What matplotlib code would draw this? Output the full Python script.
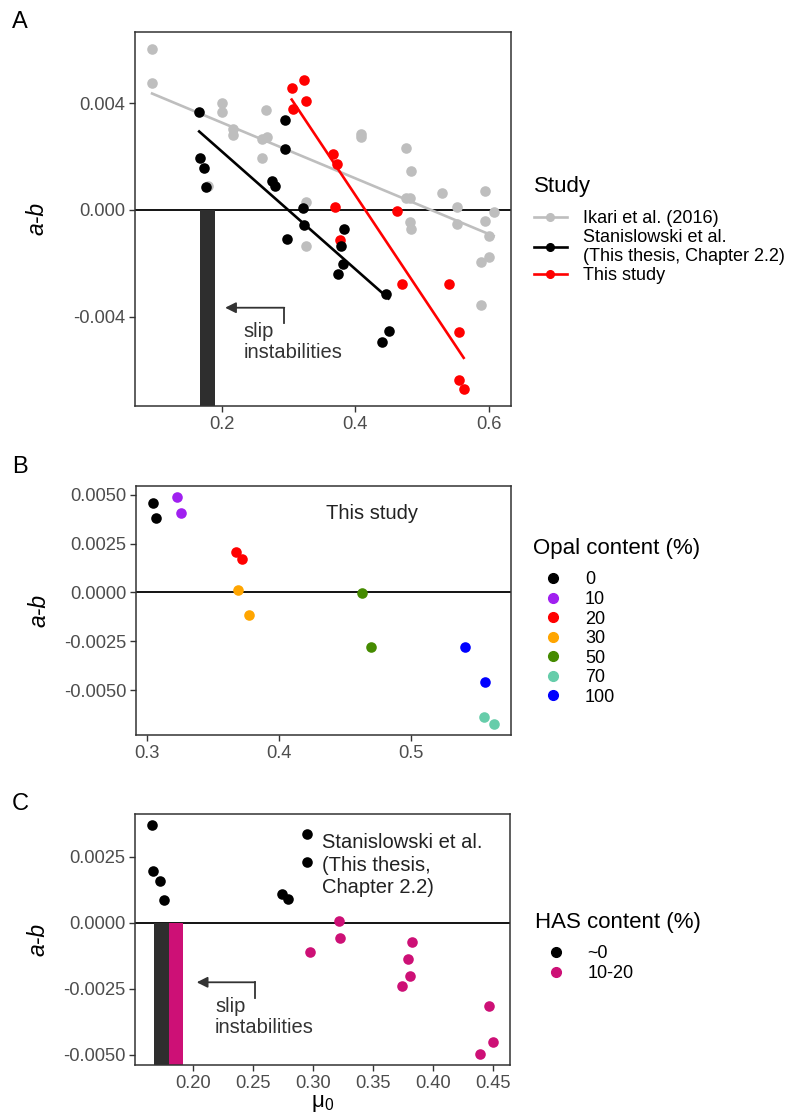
import numpy as np
import matplotlib
matplotlib.use("Agg")
import matplotlib.pyplot as plt
from matplotlib.lines import Line2D

plt.rcParams['font.family'] = ['Liberation Sans', 'DejaVu Sans']
plt.rcParams['mathtext.fontset'] = 'custom'
plt.rcParams['mathtext.rm'] = 'Liberation Sans'
plt.rcParams['mathtext.it'] = 'Liberation Sans:italic'

# Ikari et al. (2016) compilation: friction coefficient mu0 and a-b
ikari_mu = [0.0955, 0.0955, 0.2001, 0.2001, 0.2175, 0.2175, 0.2665, 0.2601,
            0.2676, 0.2601, 0.1800, 0.3261, 0.3261, 0.4090, 0.4090, 0.4765,
            0.4840, 0.4765, 0.4825, 0.4815, 0.4836, 0.5300, 0.5526, 0.5526,
            0.5950, 0.5950, 0.6000, 0.6075, 0.5886, 0.6000, 0.5886]
ikari_ab = [0.00605, 0.00478, 0.00400, 0.00367, 0.00305, 0.00280, 0.00374, 0.00268,
            0.00272, 0.00195, 0.00090, 0.00030, -0.00135, 0.00286, 0.00274, 0.00231,
            0.00146, 0.00043, 0.00043, -0.00045, -0.00070, 0.00065, 0.00011, -0.00051,
            0.00070, -0.00043, -0.00098, -0.00008, -0.00197, -0.00175, -0.00357]

# Stanislowski et al. (Chapter 2.2), split by HAS content
has0_mu = [0.1661, 0.1672, 0.1728, 0.1761, 0.2746, 0.2793, 0.2948, 0.2948]
has0_ab = [0.00368, 0.00194, 0.00159, 0.00086, 0.00108, 0.00090, 0.00336, 0.00228]
has1020_mu = [0.3217, 0.3228, 0.2973, 0.3830, 0.3794, 0.3810, 0.3747, 0.4465, 0.4501, 0.4396]
has1020_ab = [0.00006, -0.00058, -0.00110, -0.00073, -0.00136, -0.00203, -0.00241,
              -0.00315, -0.00453, -0.00496]
has_labels = ['~0', '10-20']

# this study, by opal content (%)
this_mu = [0.3048, 0.3074, 0.3233, 0.3258, 0.3674, 0.3720, 0.3692, 0.3775,
           0.4626, 0.4697, 0.5556, 0.5626, 0.5411, 0.5561]
this_ab = [0.00456, 0.00380, 0.00487, 0.00408, 0.00209, 0.00172, 0.00010, -0.00114,
           -0.00003, -0.00279, -0.00638, -0.00672, -0.00279, -0.00459]
this_opal = [0, 0, 10, 10, 20, 20, 30, 30, 50, 50, 70, 70, 100, 100]
opal_levels = [0, 10, 20, 30, 50, 70, 100]

# velocity-weakening (slip instability) ranges of mu0
unstable_all = (0.168, 0.190)
unstable_has = [(0.168, 0.180), (0.180, 0.192)]

GREY = '#BEBEBE'
MAGENTA = '#CD1076'
BAR = '#2E2E2E'
FRAME = '#333333'
TXT = '#4D4D4D'
opal_colors = {0: 'black', 10: '#A020F0', 20: 'red', 30: '#FFA500',
               50: '#458B00', 70: '#66CDAA', 100: '#0000FF'}
has_colors = ['black', MAGENTA]

PT = 58  # marker area


def expand(*arrays, frac=0.05):
    v = np.concatenate([np.asarray(a, float) for a in arrays])
    pad = (v.max() - v.min()) * frac
    return v.min() - pad, v.max() + pad


def style(ax, xt, xtl, yt, ytl, ylab_x):
    for s in ax.spines.values():
        s.set_color(FRAME)
        s.set_linewidth(1.1)
    ax.set_xticks(xt, xtl)
    ax.set_yticks(yt, ytl)
    ax.tick_params(color=FRAME, labelcolor=TXT, labelsize=13.2, length=4, width=1.0, pad=3)
    ax.axhline(0, color='black', lw=1.3, zorder=1.5)
    ax.set_ylabel('a-b', style='italic', fontsize=16.5)
    ax.yaxis.set_label_coords(ylab_x, 0.5)


def fit_line(ax, x, y, color):
    x = np.asarray(x)
    k, b = np.polyfit(x, y, 1)
    xs = np.array([x.min(), x.max()])
    ax.plot(xs, k * xs + b, color=color, lw=1.9, zorder=2)


def slip_arrow(ax, x_right, y_low, y_arrow, x_tip, tx, ty):
    ax.plot([x_right, x_right], [y_low, y_arrow], color=FRAME, lw=1.3, zorder=4)
    ax.annotate('', xy=(x_tip, y_arrow), xytext=(x_right, y_arrow),
                arrowprops=dict(arrowstyle='-|>', color=FRAME, lw=1.3,
                                mutation_scale=16, shrinkA=0, shrinkB=0), zorder=4)
    ax.text(tx, ty, 'slip\ninstabilities', color=FRAME, fontsize=14.5,
            ha='left', va='top', linespacing=1.12)


def legend(ax, handles, labels, title, x_px, y_px, title_gap, **kw):
    leg = ax.legend(handles, labels, title=title, loc='upper left',
                    bbox_to_anchor=(x_px / W, 1 - y_px / H), bbox_transform=fig.transFigure,
                    frameon=False, fontsize=13, title_fontsize=16, alignment='left',
                    borderpad=0, borderaxespad=0, **kw)
    leg._legend_box.sep = title_gap
    return leg


fig = plt.figure(figsize=(7.89, 11.15), dpi=100)
W, H = 789, 1115


def add_axes(l, r, t, b):
    return fig.add_axes([l / W, 1 - b / H, (r - l) / W, (b - t) / H])


stan_mu = has0_mu + has1020_mu
stan_ab = has0_ab + has1020_ab

# ---- A: all studies with linear fits
axA = add_axes(135, 510.7, 31.7, 406)
xl = expand(ikari_mu, stan_mu, this_mu)
yl = expand(ikari_ab, stan_ab, this_ab)
axA.set_xlim(xl)
axA.set_ylim(yl)
axA.bar(unstable_all[0], yl[0], width=unstable_all[1] - unstable_all[0], bottom=0,
        align='edge', color=BAR, zorder=1.6)
fit_line(axA, ikari_mu, ikari_ab, GREY)
fit_line(axA, stan_mu, stan_ab, 'black')
fit_line(axA, this_mu, this_ab, 'red')
axA.scatter(ikari_mu, ikari_ab, s=PT, color=GREY, lw=0, zorder=3)
axA.scatter(this_mu, this_ab, s=PT, color='red', lw=0, zorder=3)
axA.scatter(stan_mu, stan_ab, s=PT, color='black', lw=0, zorder=3)
slip_arrow(axA, 0.2937, -0.00426, -0.00367, 0.205, 0.2325, -0.00422)
style(axA, [0.2, 0.4, 0.6], ['0.2', '0.4', '0.6'],
      [0.004, 0.0, -0.004], ['0.004', '0.000', '-0.004'], -0.229)

hA = [Line2D([], [], color=c, lw=1.9, marker='o', ms=5.5) for c in (GREY, 'black', 'red')]
legA = legend(axA, hA, ['Ikari et al. (2016)', 'Stanislowski et al.\n(This thesis, Chapter 2.2)',
                        'This study'], 'Study', 534, 176, 9.5,
              handlelength=1.8, handletextpad=0.9, labelspacing=0.12)
for t in legA.get_texts():
    t.set_linespacing(1.1)

# ---- B: this study coloured by opal content
axB = add_axes(136, 510.7, 486, 735)
axB.set_xlim(expand(this_mu))
axB.set_ylim(expand(this_ab))
mu = np.array(this_mu)
ab = np.array(this_ab)
op = np.array(this_opal)
for lev in opal_levels:
    m = op == lev
    axB.scatter(mu[m], ab[m], s=PT, color=opal_colors[lev], lw=0, zorder=3)
axB.text(0.436, 0.00405, 'This study', fontsize=14.5, color='#222222', ha='left', va='center')
style(axB, [0.3, 0.4, 0.5], ['0.3', '0.4', '0.5'],
      [0.005, 0.0025, 0.0, -0.0025, -0.005],
      ['0.0050', '0.0025', '0.0000', '-0.0025', '-0.0050'], -0.229)

hB = [Line2D([], [], ls='none', marker='o', ms=7, color=opal_colors[lev]) for lev in opal_levels]
legend(axB, hB, [str(lev) for lev in opal_levels], 'Opal content (%)', 532.7, 538, 9,
       handlelength=2.3, handletextpad=0.6, labelspacing=0.14)

# ---- C: Stanislowski et al. coloured by HAS content
axC = add_axes(135, 510, 814, 1065)
xl = expand(stan_mu)
yl = expand(stan_ab)
axC.set_xlim(xl)
axC.set_ylim(yl)
for (x0, x1), c in zip(unstable_has, [BAR, MAGENTA]):
    axC.bar(x0, yl[0], width=x1 - x0, bottom=0, align='edge', color=c, zorder=1.6)
axC.scatter(has0_mu, has0_ab, s=PT, color='black', lw=0, zorder=3)
axC.scatter(has1020_mu, has1020_ab, s=PT, color=MAGENTA, lw=0, zorder=3)
axC.text(0.308, 0.00338, 'Stanislowski et al.\n(This thesis,\nChapter 2.2)', fontsize=14.5,
         color='#222222', ha='left', va='top', linespacing=1.22)
slip_arrow(axC, 0.2518, -0.00287, -0.00226, 0.2033, 0.2185, -0.00283)
style(axC, [0.20, 0.25, 0.30, 0.35, 0.40, 0.45],
      ['0.20', '0.25', '0.30', '0.35', '0.40', '0.45'],
      [0.0025, 0.0, -0.0025, -0.005], ['0.0025', '0.0000', '-0.0025', '-0.0050'], -0.229)
axC.set_xlabel(r'$\mathregular{\mu_0}$', fontsize=16, labelpad=1)

hC = [Line2D([], [], ls='none', marker='o', ms=7, color=c) for c in has_colors]
legend(axC, hC, has_labels, 'HAS content (%)', 535, 912, 9,
       handlelength=2.3, handletextpad=0.6, labelspacing=0.14)

for lab, y in (('A', 21.7), ('B', 467), ('C', 804)):
    fig.text(20 / W, 1 - y / H, lab, fontsize=17, ha='center', va='center')

fig.savefig('out.png', dpi=100)
